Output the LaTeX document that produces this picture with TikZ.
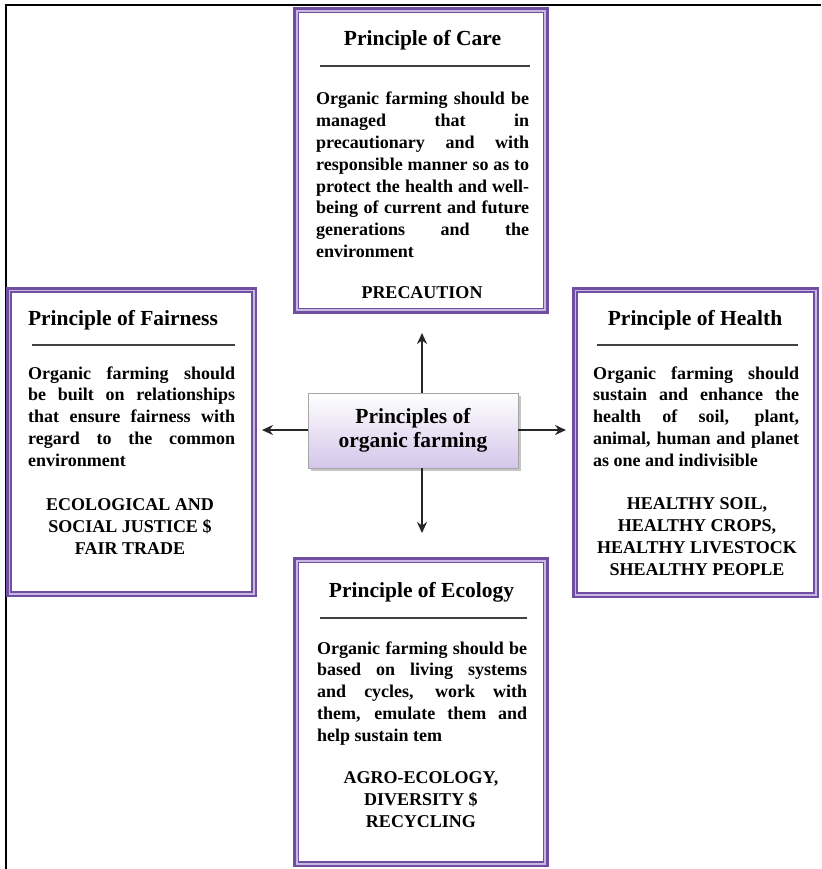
\documentclass[tikz,border=0pt]{standalone}
\usepackage{fontspec}
\setmainfont{Liberation Serif}
\usetikzlibrary{shadows,arrows.meta}
\definecolor{boxpurple}{RGB}{112,78,162}
\definecolor{lav}{RGB}{200,184,226}
\definecolor{cboxbot}{RGB}{212,198,234}
\tikzset{
  pbox/.style={draw=boxpurple, line width=5.5pt, fill=white, inner sep=0pt},
  lavline/.style={draw=lav, line width=1.8pt},
  thinline/.style={draw=boxpurple, line width=1.5pt},
  titletext/.style={inner sep=0pt, anchor=base, font={\fontsize{21.5}{24}\selectfont\bfseries}},
  bodytext/.style={inner sep=0pt, anchor=base west, align=justify,
    font={\fontsize{18}{21.8}\selectfont\bfseries\tolerance=10000\hbadness=10000\hyphenpenalty=10000\parindent=0pt}},
  capstext/.style={inner sep=0pt, anchor=base, align=center, font={\fontsize{18}{22}\selectfont\bfseries}},
  seprule/.style={draw=black!75, line width=2pt},
  frameline/.style={draw=black, line width=2pt},
  centerbox/.style={draw=black!35, line width=0.8pt, top color=white, bottom color=cboxbot,
    minimum width=210pt, minimum height=75pt, inner sep=0pt, align=center,
    font={\fontsize{21.5}{24.5}\selectfont\bfseries},
    drop shadow={shadow xshift=2.5pt, shadow yshift=-2.5pt, fill=black!45, opacity=0.5}},
  arr/.style={draw=black!85, line width=1.8pt, -{Stealth[length=11pt,width=10pt]}}
}
\newcommand\innerframes[1]{%
  \draw[lavline] ([shift={(3.65,3.65)}]#1.north west) rectangle ([shift={(-3.65,-3.65)}]#1.south east);
  \draw[thinline] ([shift={(5.2,5.2)}]#1.north west) rectangle ([shift={(-5.2,-5.2)}]#1.south east);
}
\begin{document}
\begin{tikzpicture}[x=1pt,y=-1pt]
\useasboundingbox (0,0) rectangle (821,869);
\fill[white] (0,0) rectangle (821,869);
% outer frame
\coordinate (fTL) at (5.5,5.5);
\coordinate (fTR) at (821,5.5);
\coordinate (fBL) at (5.5,869);
\draw[frameline] (fTR) -- (fTL) -- (fBL);

% boxes
\node[pbox, minimum width=250pt, minimum height=301pt] (care) at (421,160.5) {};
\innerframes{care}
\node[pbox, minimum width=246pt, minimum height=305pt] (fair) at (131.5,442) {};
\innerframes{fair}
\node[pbox, minimum width=242pt, minimum height=306pt] (health) at (695.5,442.5) {};
\innerframes{health}
\node[pbox, minimum width=250pt, minimum height=304.5pt] (eco) at (421,712.25) {};
\innerframes{eco}

% Care
\node[titletext] (careT) at (422.5,46) {Principle of Care};
\coordinate (careL1) at (320,66.5); \coordinate (careL2) at (530,66.5);
\draw[seprule] (careL1) -- (careL2);
\node[bodytext, text width=213pt] (careB) at (316,105) {Organic farming should be\linebreak managed that in\linebreak precautionary and with\linebreak responsible manner so as to\linebreak protect the health and well-\linebreak being of current and future\linebreak generations and the\linebreak environment};
\node[capstext] (careC) at (422,298) {PRECAUTION};

% Fairness
\node[titletext] (fairT) at (123,325) {Principle of Fairness};
\coordinate (fairL1) at (32,345); \coordinate (fairL2) at (235,345);
\draw[seprule] (fairL1) -- (fairL2);
\node[bodytext, text width=207pt] (fairB) at (28,379) {Organic farming should\linebreak be built on relationships\linebreak that ensure fairness with\linebreak regard to the common\linebreak environment};
\node[capstext] (fairC) at (130,554) {ECOLOGICAL AND\\SOCIAL JUSTICE \$\\FAIR TRADE};

% Health
\node[titletext] (healthT) at (695,325) {Principle of Health};
\coordinate (healthL1) at (597,345); \coordinate (healthL2) at (798,345);
\draw[seprule] (healthL1) -- (healthL2);
\node[bodytext, text width=206pt] (healthB) at (593,379) {Organic farming should\linebreak sustain and enhance the\linebreak health of soil, plant,\linebreak animal, human and planet\linebreak as one and indivisible};
\node[capstext] (healthC) at (697,575) {HEALTHY SOIL,\\HEALTHY CROPS,\\HEALTHY LIVESTOCK\\SHEALTHY PEOPLE};

% Ecology
\node[titletext] (ecoT) at (421.5,597) {Principle of Ecology};
\coordinate (ecoL1) at (320,618); \coordinate (ecoL2) at (527,618);
\draw[seprule] (ecoL1) -- (ecoL2);
\node[bodytext, text width=210pt] (ecoB) at (317,654) {Organic farming should be\linebreak based on living systems\linebreak and cycles, work with\linebreak them, emulate them and\linebreak help sustain tem};
\node[capstext] (ecoC) at (421,827) {AGRO-ECOLOGY,\\DIVERSITY \$\\RECYCLING};

% centre
\node[centerbox] (cbox) at (413,430.5) {Principles of\\organic farming};
\coordinate (tUp) at (422,333);
\coordinate (tDown) at (422,533);
\coordinate (tLeft) at (262,430);
\coordinate (tRight) at (566,430);
\draw[arr] (cbox.north -| tUp) -- (tUp);
\draw[arr] (cbox.south -| tDown) -- (tDown);
\draw[arr] (cbox.west |- tLeft) -- (tLeft);
\draw[arr] (cbox.east |- tRight) -- (tRight);
\end{tikzpicture}
\end{document}
